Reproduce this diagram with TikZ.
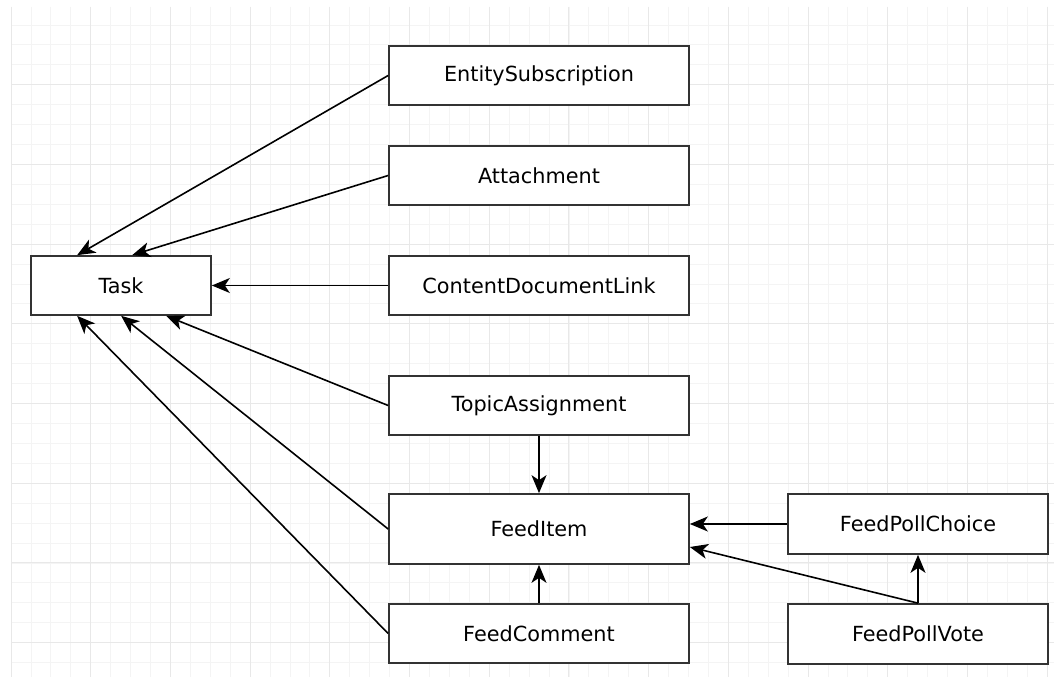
\documentclass[tikz,border=0pt]{standalone}
\usepackage{fontspec}
\setmainfont{DejaVu Sans}
\usetikzlibrary{arrows.meta}
\definecolor{gridminor}{HTML}{F4F4F4}
\definecolor{gridmajor}{HTML}{E8E8E8}
\definecolor{boxline}{HTML}{333333}
\begin{document}
\begin{tikzpicture}[x=1pt,y=-1pt,
  ent/.style={draw=boxline, line width=1.7pt, fill=white, minimum width=300pt, minimum height=59pt, inner sep=0pt, font=\fontsize{20.8}{24}\selectfont},
  rel/.style={draw=black, line width=1.6pt, -{Stealth[length=18pt,width=15pt,inset=5pt]}}
]
\useasboundingbox (0,0) rectangle (1054,677);
\fill[white] (0,0) rectangle (1054,677);
% grid
\foreach \i in {0,...,52} {
  \draw[gridminor, line width=0.8pt] ({11+19.925*\i},7) -- ({11+19.925*\i},677);
}
\foreach \j in {0,...,33} {
  \pgfmathsetmacro{\yy}{5+19.925*\j}
  \ifdim\yy pt>6pt \draw[gridminor, line width=0.8pt] (11,\yy) -- (1054,\yy); \fi
}
\foreach \i in {0,...,13} {
  \draw[gridmajor, line width=0.9pt] ({11+79.7*\i},7) -- ({11+79.7*\i},677);
}
\foreach \j in {1,...,8} {
  \draw[gridmajor, line width=0.9pt] (11,{5+79.7*\j}) -- (1054,{5+79.7*\j});
}
% nodes
\node[ent, minimum width=180pt] (task) at (121,285.5) {Task};
\node[ent] (es) at (539,75.5) {EntitySubscription};
\node[ent] (att) at (539,175.5) {Attachment};
\node[ent] (cdl) at (539,285.5) {ContentDocumentLink};
\node[ent] (ta) at (539,405.5) {TopicAssignment};
\node[ent, minimum height=70pt] (fi) at (539,529) {FeedItem};
\node[ent] (fc) at (539,633.5) {FeedComment};
\node[ent, minimum width=260pt, minimum height=60pt] (fpc) at (918,524) {FeedPollChoice};
\node[ent, minimum width=260pt, minimum height=60pt] (fpv) at (918,634) {FeedPollVote};
% connectors
\draw[rel] (es.west) -- ([xshift=47pt]task.north west);
\draw[rel] (att.west) -- ([xshift=102pt]task.north west);
\draw[rel] (cdl.west) -- (task.east);
\draw[rel] (ta.west) -- ([xshift=136pt]task.south west);
\draw[rel] (fi.west) -- ([xshift=91pt]task.south west);
\draw[rel] (fc.west) -- ([xshift=47pt]task.south west);
\draw[rel] (ta.south) -- (fi.north);
\draw[rel] (fc.north) -- (fi.south);
\draw[rel] (fpc.west) -- ([yshift=5pt]fi.east);
\draw[rel] (fpv.north) -- ([yshift=-18pt]fi.east);
\draw[rel] (fpv.north) -- (fpc.south);
\end{tikzpicture}
\end{document}
